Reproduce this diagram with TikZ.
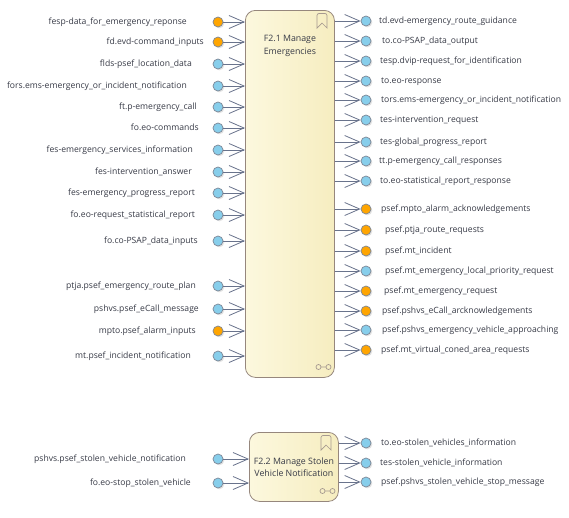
\documentclass[tikz,border=0pt]{standalone}
\usepackage{fontspec}
\setmainfont{Open Sans}
\usetikzlibrary{arrows.meta, shadows}
\definecolor{portblue}{RGB}{135,206,235}
\definecolor{portorange}{RGB}{255,165,0}
\definecolor{portedge}{RGB}{125,135,150}
\definecolor{flowgray}{RGB}{105,115,140}
\definecolor{boxleft}{RGB}{252,248,222}
\definecolor{boxright}{RGB}{246,237,192}
\definecolor{boxedge}{RGB}{150,135,125}
\definecolor{textgray}{RGB}{55,58,70}

\begin{document}
\begin{tikzpicture}[x=1pt,y=-1pt,
  port/.style={circle,draw=portedge,line width=0.7pt,minimum size=10pt,inner sep=0pt,
    drop shadow={shadow xshift=1.3pt,shadow yshift=-1.3pt,fill=black!22}},
  lbl/.style={font=\fontsize{8.6}{10}\selectfont,text=textgray,inner sep=0pt,text height=6.5pt,text depth=2pt},
  flow/.style={draw=flowgray,line width=0.8pt,-{Straight Barb[length=15pt,width=13pt]}},
  func/.style={draw=boxedge,line width=0.8pt,rounded corners=10pt,left color=boxleft,right color=boxright,inner sep=0pt},
  icon/.style={draw=boxedge!85,line width=0.7pt}]
  \fill[white](0,0) rectangle (569,517);
  \useasboundingbox(0,0) rectangle (569,517);
  % F2.1 Manage Emergencies
  \node[func,minimum width=89pt,minimum height=367pt,anchor=north west] (mng) at (245,10) {};
  \node[lbl,align=center,font=\fontsize{8.8}{13}\selectfont,text height=,text depth=] (mngt) at (mng.north |- 0,45.5) {F2.1 Manage\\Emergencies};
  \draw[icon] (317,28) [rounded corners=2pt] -- (317,13.5) -- (327,13.5) [sharp corners] -- (327,28) -- (322,23) -- cycle;
  \draw[icon] (318.5,367) circle (2.5) (328.5,367) circle (2.5) (321,367) -- (326,367);
  % inputs
  \foreach \n/\y/\x/\c/\t in {
    1/22/187/portorange/fesp-data\_for\_emergency\_reponse,
    2/42/204/portorange/fd.evd-command\_inputs,
    3/64/192/portblue/flds-psef\_location\_data,
    4/86/187/portblue/fors.ems-emergency\_or\_incident\_notification,
    5/107/197/portblue/ft.p-emergency\_call,
    6/128/199/portblue/fo.eo-commands,
    7/150/193/portblue/fes-emergency\_services\_information,
    8/172/192/portblue/fes-intervention\_answer,
    9/193/195/portblue/fes-emergency\_progress\_report,
    10/215/195/portblue/fo.eo-request\_statistical\_report,
    11/241/198/portblue/fo.co-PSAP\_data\_inputs,
    12/286/196/portblue/ptja.psef\_emergency\_route\_plan,
    13/309/199/portblue/pshvs.psef\_eCall\_message,
    14/331/196/portorange/mpto.psef\_alarm\_inputs,
    15/356/191/portblue/mt.psef\_incident\_notification}{
    \node[port,fill=\c] (in\n) at (218,\y) {};
    \node[lbl,anchor=east] (inl\n) at (\x,\y) {\t};
    \draw[flow] (in\n) -- (in\n -| mng.west);
  }
  % outputs
  \foreach \n/\y/\x/\c/\t in {
    1/21/379/portblue/td.evd-emergency\_route\_guidance,
    2/41/382/portblue/to.co-PSAP\_data\_output,
    3/61/380/portblue/tesp.dvip-request\_for\_identification,
    4/81/381/portblue/to.eo-response,
    5/100/381/portblue/tors.ems-emergency\_or\_incident\_notification,
    6/120/380/portblue/tes-intervention\_request,
    7/142/380/portblue/tes-global\_progress\_report,
    8/161/379/portblue/tt.p-emergency\_call\_responses,
    9/181/380/portblue/to.eo-statistical\_report\_response,
    10/209/381/portorange/psef.mpto\_alarm\_acknowledgements,
    11/230/385/portorange/psef.ptja\_route\_requests,
    12/251/385/portorange/psef.mt\_incident,
    13/271/385/portblue/psef.mt\_emergency\_local\_priority\_request,
    14/291/384/portorange/psef.mt\_emergency\_request,
    15/311/382/portorange/psef.pshvs\_eCall\_arcknowledgements,
    16/330/382/portblue/psef.pshvs\_emergency\_vehicle\_approaching,
    17/350/381/portorange/psef.mt\_virtual\_coned\_area\_requests}{
    \node[port,fill=\c] (out\n) at (366,\y) {};
    \node[lbl,anchor=west] (outl\n) at (\x,\y) {\t};
    \draw[flow] (out\n -| mng.east) -- (out\n);
  }
  % F2.2 Manage Stolen Vehicle Notification
  \node[func,minimum width=89pt,minimum height=69pt,anchor=north west] (stl) at (249,432) {};
  \node[lbl,align=center,font=\fontsize{8.8}{12}\selectfont,text height=,text depth=] (stlt) at (stl.north |- 0,467) {F2.2 Manage Stolen\\Vehicle Notification};
  \draw[icon] (321,450) [rounded corners=2pt] -- (321,435.5) -- (331,435.5) [sharp corners] -- (331,450) -- (326,445) -- cycle;
  \draw[icon] (322.5,491) circle (2.5) (332.5,491) circle (2.5) (325,491) -- (330,491);
  \foreach \n/\y/\x/\t in {
    1/459/186/pshvs.psef\_stolen\_vehicle\_notification,
    2/483/191/fo.eo-stop\_stolen\_vehicle}{
    \node[port,fill=portblue] (sin\n) at (218,\y) {};
    \node[lbl,anchor=east] (sinl\n) at (\x,\y) {\t};
    \draw[flow] (sin\n) -- (sin\n -| stl.west);
  }
  \foreach \n/\y/\x/\t in {
    1/443/381/to.eo-stolen\_vehicles\_information,
    2/463/380/tes-stolen\_vehicle\_information,
    3/482/381/psef.pshvs\_stolen\_vehicle\_stop\_message}{
    \node[port,fill=portblue] (sout\n) at (366,\y) {};
    \node[lbl,anchor=west] (soutl\n) at (\x,\y) {\t};
    \draw[flow] (sout\n -| stl.east) -- (sout\n);
  }
\end{tikzpicture}
\end{document}
